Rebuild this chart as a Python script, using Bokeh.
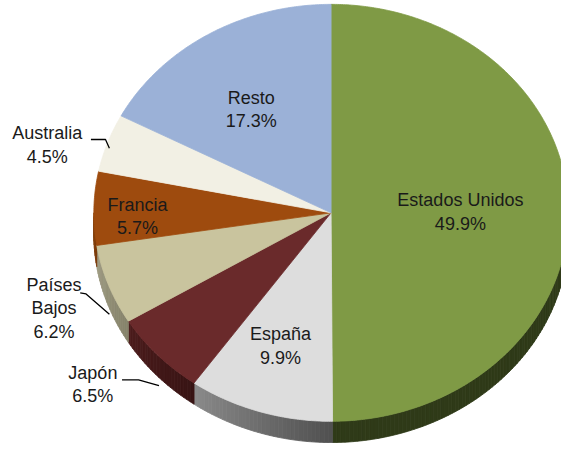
import numpy as np
from bokeh.plotting import figure
from bokeh.models import Range1d
from bokeh.embed import file_html
from bokeh.resources import INLINE
from bokeh.core.properties import value

# ---- data ----
categories = ["Estados Unidos", "España", "Japón", "Países Bajos", "Francia", "Australia", "Resto"]
shares = [49.9, 9.9, 6.5, 6.2, 5.7, 4.5, 17.3]
label_names = ["Estados Unidos", "España", "Japón", "Países\nBajos", "Francia", "Australia", "Resto"]

# ---- styles ----
top_colors = ["#7f9a45", "#dddddd", "#6a2a2b", "#c9c49e", "#9e4b0e", "#f2f0e4", "#9bb1d7"]
side_lo = ["#2f3a18", "#505050", "#381414", "#85826a", "#7a3a0b", "#c0beb0", "#7a8cac"]
side_hi = ["#2f3a18", "#8a8a8a", "#4c1d1d", "#a09d84", "#86420e", "#c0beb0", "#7a8cac"]

# label block centres (reference px) and leader lines
label_pos = [(473, 219), (288, 358), (95, 398), (55, 319), (141, 224), (48, 150), (258, 113)]
leaders_x = [[93, 108, 112], [82, 88, 112], [125, 142, 163]]
leaders_y = [[144, 144, 153], [303, 304, 325], [393, 393, 399]]

W, H = 561, 443
p = figure(width=W, height=H, x_range=Range1d(0, 577), y_range=Range1d(459, 0),
           output_backend="svg", toolbar_location=None, min_border=0)
p.axis.visible = False
p.grid.visible = False
p.outline_line_color = None
p.background_fill_color = "white"
p.border_fill_color = "white"

cx, cy, rx, ry, depth = 340.0, 220.0, 244.0, 216.0, 22.0
total = float(sum(shares))
bounds = np.concatenate([[0.0], np.cumsum(shares)]) / total * 2 * np.pi


def ex(t):
    return cx + rx * np.sin(t)


def ey(t):
    return cy - ry * np.cos(t)


def hex2rgb(h):
    h = h.lstrip("#")
    return np.array([int(h[i:i + 2], 16) for i in (0, 2, 4)], dtype=float)


def mix(c1, c2, f):
    c = hex2rgb(c1) * (1 - f) + hex2rgb(c2) * f
    return "#%02x%02x%02x" % tuple(int(round(v)) for v in c)


# ---- side faces ----
sx, sy, sc = [], [], []
for i in range(len(shares)):
    a, b = bounds[i], bounds[i + 1]
    lo, hi = max(a, np.pi / 2), min(b, 3 * np.pi / 2)
    if hi <= lo:
        continue
    n = max(2, int(np.degrees(hi - lo)))
    ts = np.linspace(lo, hi, n + 1)
    for k in range(n):
        t0, t1 = ts[k], ts[k + 1]
        sx.append([ex(t0), ex(t1), ex(t1), ex(t0)])
        sy.append([ey(t0), ey(t1), ey(t1) + depth, ey(t0) + depth])
        f = (0.5 * (t0 + t1) - lo) / (hi - lo)
        sc.append(mix(side_lo[i], side_hi[i], f))
p.patches(sx, sy, fill_color=sc, line_color=sc, line_width=0.8)

# ---- top faces ----
tx, ty = [], []
for i in range(len(shares)):
    a, b = bounds[i], bounds[i + 1]
    ts = np.linspace(a, b, max(3, int(np.degrees(b - a)) * 2))
    tx.append([cx] + list(ex(ts)))
    ty.append([cy] + list(ey(ts)))
p.patches(tx, ty, fill_color=top_colors, line_color=top_colors, line_width=0.8)

# ---- leader lines ----
p.multi_line(leaders_x, leaders_y, line_color="#000000", line_width=1.3)

# ---- labels ----
texts = [f"{n}\n{v:.1f}%" for n, v in zip(label_names, shares)]
p.text([q[0] for q in label_pos], [q[1] for q in label_pos], text=texts,
       text_align="center", text_baseline="middle", text_font=value("Liberation Sans"),
       text_font_size="18px", text_color="#1a1a1a", text_line_height=1.18)

open("out.html", "w").write(file_html(p, INLINE))
